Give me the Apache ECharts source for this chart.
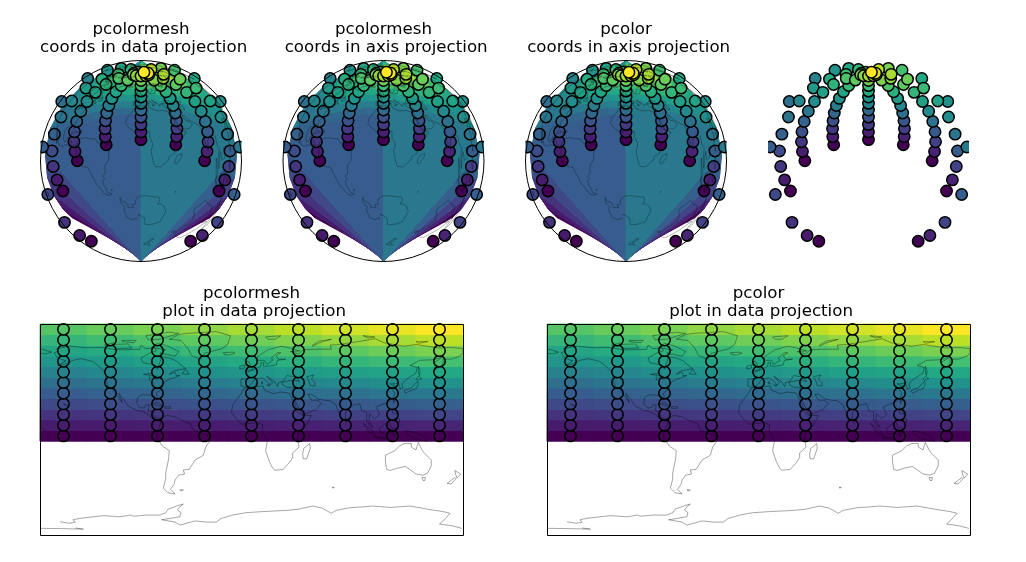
<!DOCTYPE html>
<html><head><meta charset="utf-8">
<style>html,body{margin:0;padding:0;background:#fff}#c{width:1026px;height:562px}</style>
<script src="https://cdn.jsdelivr.net/npm/echarts@6/dist/echarts.min.js"></script>
</head><body><div id="c"></div>
<script>
const lonEdges=[-180,-140,-100,-60,-20,20,60,100,140,180];
const latEdges=[-10,-0.91,8.18,17.27,26.36,35.45,44.55,53.64,62.73,71.82,80.91,90];
const pointLons=[-160,-120,-80,-40,0,40,80,120,160];
const pointLats=[-5.45,3.64,12.73,21.82,30.91,40,49.09,58.18,67.27,76.36,85.45];
const cellValues=[
[0,0,0,0,0,0,0,0,0],
[.073,.076,.080,.083,.087,.090,.093,.097,.100],
[.146,.153,.160,.166,.173,.180,.187,.193,.200],
[.219,.229,.239,.249,.260,.270,.280,.290,.300],
[.292,.306,.319,.332,.346,.360,.373,.386,.400],
[.365,.382,.399,.416,.433,.450,.467,.483,.500],
[.438,.458,.479,.499,.519,.539,.560,.580,.600],
[.511,.535,.559,.582,.606,.629,.653,.676,.700],
[.584,.611,.638,.665,.692,.719,.746,.773,.800],
[.657,.688,.718,.748,.779,.809,.840,.869,.900],
[.730,.764,.798,.831,.865,.899,.933,.966,1]];
const viridisStops=['#440154','#482475','#414487','#355f8d','#2a788e','#21918c','#22a884','#44bf70','#7ad151','#bddf26','#fde725'];
const titles=['pcolormesh\n coords in data projection','pcolormesh\n coords in axis projection','pcolor\n coords in axis projection','pcolormesh\n plot in data projection','pcolor\n plot in data projection'];
const coast=[
// Americas
[[-168,65.5],[-164,67],[-166,68.5],[-156,71.3],[-141,69.7],[-128,70],[-115,68],[-108,68],[-95,68.5],[-94,72],[-90,69],[-82,69.5],[-81,67],[-87,65],[-94,61],[-92.5,57],[-82,55],[-80,51.5],[-79,54.5],[-77,60],[-78,62.5],[-70,61],[-65,59],[-60,55],[-56,52],[-66,50],[-70,47],[-65,49],[-64,46],[-61,46],[-66,44],[-70,43],[-74,40.5],[-76,37],[-76,35],[-81,31],[-80,26],[-81,25],[-83,29],[-90,29.5],[-94,29.5],[-97,27],[-97.5,22],[-95,18.5],[-91,18.5],[-90,21],[-87,21],[-88,16],[-83.5,15],[-83.5,11],[-79.5,9.5],[-76,8.5],[-75,11],[-71.5,12],[-64,10.5],[-60,8],[-52,5],[-50,0],[-44,-2.5],[-35,-6],[-35,-9],[-39,-15],[-41,-22],[-48,-26],[-53,-34],[-58,-34.5],[-57,-38],[-62,-39],[-65,-43],[-66,-47],[-69,-51],[-65,-55],[-71,-54],[-75,-50],[-73,-42],[-73,-37],[-70.5,-25],[-70,-18],[-76,-14],[-81,-6],[-80,-1],[-77.5,4],[-77.5,7.5],[-80,7.5],[-85,10],[-88,13],[-94,16],[-97,16],[-105,20],[-109,26],[-113,31],[-110,23],[-115,30],[-117,33],[-122,37],[-124,43],[-124,48],[-130,54],[-135,58],[-145,60.5],[-152,59],[-158,56],[-165,54.5],[-158,58.5],[-165,61],[-168,65.5]],
// Eurasia
[[-9,37],[-9,43],[-1.5,43.5],[-4.5,48.5],[2,51],[8,54],[8,57],[10.5,57],[10,54],[14,54],[21,55],[22,59],[29,60],[23,60],[21,63],[25,65.5],[22,65.5],[17,61],[18,59],[13,55.5],[11,59],[5,59],[5,62],[14,68],[25,71],[31,70],[41,67],[33,66.5],[40,64.5],[44,68],[54,68.5],[68,68.5],[67,72],[74,72.5],[81,73.5],[100,76.5],[105,77.5],[113,74],[130,71],[140,72.5],[160,69.5],[170,70],[180,69],[180,65],[177,62.5],[170,60],[163,60],[163,56],[156.5,51],[155.5,57],[163,62],[155,59.5],[143,59],[135,54.5],[141,53],[140,48],[132,43],[128,39],[129,35.5],[126.5,34.5],[126,37],[125,39.5],[121.5,39],[118,39],[122,37],[119,35],[122,31],[121,28],[117,23.5],[110,21],[106,19],[109,13],[105,9],[100.5,13.5],[100,8],[103.5,1.5],[101,3],[98,8],[98,15],[94,16],[92,22],[87,21],[80,15],[80,10],[77.5,8],[73,18],[72,21],[67,24.5],[62,25],[57,26],[51,30],[48,30],[51,25],[56,25],[59.5,22.5],[55,17],[45,13],[43,13],[39,21],[35,28],[34.5,31],[36,36],[30,36],[26.5,38],[26,40.5],[29,41],[35,42],[41,41],[37,45],[33,45.5],[30,46],[28,43],[26,40.7],[23,40],[22.5,36.5],[19.5,41],[13,45.5],[18,40],[16,38],[12,42],[9,44],[3,43],[0,39],[-2,37],[-5.5,36],[-9,37]],
[[-180,69],[-175,67.5],[-170,66],[-175,64.5],[-180,65]],
// Africa
[[-5.5,35.8],[10,37],[11,33.5],[19,30.5],[25,32],[32,31],[34,27],[37,22],[39,15],[43,12],[51,12],[47,4],[40,-3],[39,-8],[40.5,-15],[35,-20],[35,-24],[32.5,-28],[27,-34],[20,-34.8],[18,-33],[15,-27],[12,-18],[13.5,-10],[9,-1],[9.5,4],[5,6],[-4,5],[-8,4.5],[-13,9],[-17,14.5],[-16,21],[-10,29],[-5.5,35.8]],
// Antarctica
[[-179,-84.3],[-160,-84.6],[-143,-85],[-150,-84]],[[-163,-78.7],[-155,-80],[-150,-79],[-152,-77],[-146,-75.8],[-135,-74.5],[-126,-73.5],[-118,-74],[-112,-74.5],[-103,-73],[-100,-74],[-90,-73],[-78,-73],[-73,-71],[-71,-68],[-63,-65],[-58,-63.6],[-61,-66],[-63,-68.7],[-60,-71],[-61,-74.4],[-70,-76],[-76.5,-77],[-65,-79],[-61,-81.5],[-48,-78],[-38,-79],[-30,-79],[-26,-76],[-16,-73],[-5,-71],[10,-70],[30,-69],[40,-68],[52,-65.3],[60,-67],[68,-71.5],[72,-69],[84,-66.7],[95,-66],[103,-65.3],[118,-66.5],[135,-65.3],[150,-68],[163,-70],[169,-71.5],[165,-76],[160,-80.7],[170,-82],[179,-84.3]],
// Greenland
[[-55,82],[-30,83.5],[-18,80],[-20,73],[-25,69],[-40,65],[-43,60],[-51,63],[-54,69],[-60,76],[-70,77],[-62,81],[-55,82]],
// Arctic islands
[[-80,73.5],[-72,71.5],[-62,66.5],[-65,62.5],[-72,64],[-78,65],[-73,68],[-85,70],[-80,73.5]],
[[-118,72.5],[-105,73],[-102,69.5],[-115,69],[-118,72.5]],
[[-90,80],[-70,83],[-62,82],[-78,77],[-88,76.5],[-90,80]],
[[-125,72],[-117,74],[-120,71],[-125,72]],
[[-110,76],[-98,76],[-100,74],[-110,75],[-110,76]],
[[12,79],[25,80],[20,77],[14,77],[12,79]],
[[52,71],[58,74],[68,77],[58,75.5],[52,72],[52,71]],
[[95,80],[105,79],[100,78],[95,80]],
[[140,75],[150,75],[142,73.5],[140,75]],
// Iceland and British Isles
[[-24,65.5],[-16,66],[-14,65],[-19,63.5],[-23,64],[-24,65.5]],
[[-5,58.5],[-2,57.5],[0,53],[1.5,52],[1,51],[-5,50],[-3,53],[-5,55],[-5,58.5]],
[[-10,54],[-6,55],[-6,52.5],[-10,51.5],[-10,54]],
// Caribbean
[[-85,22],[-80,23],[-75,20],[-78,20],[-85,22]],[[-74,19.5],[-69,19.5],[-69,18],[-74,18],[-74,19.5]],
// Newfoundland
[[-59,47.5],[-56,51.5],[-53,47],[-59,47.5]],
// Madagascar
[[49.5,-12],[50,-16],[47,-25],[44,-25],[43.5,-21],[44.5,-16],[49.5,-12]],
// Australia
[[114,-22],[122,-18],[126,-14],[130,-12],[136,-12],[136,-15],[140,-17.5],[142,-11],[146,-19],[153,-26],[153,-31],[150,-37],[146,-39],[140,-38],[136,-35],[131,-31.5],[124,-33],[118,-35],[115,-34],[114,-27],[114,-22]],
[[145,-41],[148,-41],[147.5,-43.5],[146,-43.5],[145,-41]],
// New Zealand
[[173,-35],[178,-38],[175,-41.5],[174,-39],[173,-35]],[[173,-41],[174,-42],[170,-46.5],[166.5,-46],[173,-41]],
// Indonesia and neighbours
[[95,5.5],[104,-2],[106,-6],[101,-3],[95,5.5]],[[105,-6.5],[114,-7],[114,-8.5],[106,-7.5],[105,-6.5]],[[109,1],[117,7],[119,1],[116,-4],[110,-3],[109,1]],[[120,1],[125,1.5],[121,-1],[122,-5],[119.5,-5],[120,1]],[[131,-1],[141,-3],[147,-6],[150,-10],[143,-9],[138,-8],[133,-4],[131,-1]],
[[120,18],[122,18],[124,13],[120,14],[120,18]],[[122,9],[126,9],[126,6],[122,7],[122,9]],
[[120.5,25],[122,25],[121,22],[120.5,25]],[[80,9.5],[82,7],[80.5,6],[80,9.5]],
// Japan and Sakhalin
[[130,33.5],[136,35.5],[140,40],[141.5,41],[142,39],[140.5,35],[136,33.5],[131,31],[130,33.5]],[[140,43],[142,45.5],[145,43.5],[141,42],[140,43]],[[142,54],[143.5,50],[143,46],[142,48],[142,54]],
// Caspian
[[47,45],[53,46.5],[51,43],[54,40],[54,37],[50,37.5],[49,41],[47,45]],
// Great Lakes and small islands
[[-92,47],[-85,48],[-84,46],[-88,46.5],[-92,47]],[[-87,46],[-87,42],[-85,44],[-83,46],[-80,44.5],[-82,43],[-79,43.5],[-76,44]],
[[-61,-51.5],[-58,-51.5],[-59,-52.5],[-61,-51.5]],[[69,-49],[70.5,-49.5],[69,-50],[69,-49]],[[9,41],[9.5,39],[8.5,39],[9,41]],[[13,38],[15.5,38],[15,36.7],[13,38]],[[-160,22],[-155,20],[-156,19],[-160,22]]
];
function viridis(v){
  const t=Math.max(0,Math.min(1,v))*(viridisStops.length-1),i=Math.min(Math.floor(t),viridisStops.length-2),f=t-i;
  const h=s=>[1,3,5].map(k=>parseInt(s.substr(k,2),16));
  const a=h(viridisStops[i]),b=h(viridisStops[i+1]);
  return 'rgb('+a.map((x,k)=>Math.round(x+(b[k]-x)*f)).join(',')+')';
}
const rad=Math.PI/180,lat0=-30*rad;
function laea(p){
  const l=p[0]*rad,f=p[1]*rad;
  const c=Math.sin(lat0)*Math.sin(f)+Math.cos(lat0)*Math.cos(f)*Math.cos(l);
  const k=Math.sqrt(2/Math.max(1+c,1e-9));
  return [k*Math.cos(f)*Math.sin(l),k*(Math.cos(lat0)*Math.sin(f)-Math.sin(lat0)*Math.cos(f)*Math.cos(l))];
}
const plain=p=>p;
const panels=[
 {cx:141,cy:161,r:100.5,proj:laea,mesh:1,coast:1,ring:1},
 {cx:383.5,cy:161,r:100.5,proj:laea,mesh:1,coast:1,ring:1},
 {cx:626,cy:161,r:100.5,proj:laea,mesh:1,coast:1,ring:1},
 {cx:868.5,cy:161,r:100.5,proj:laea,mesh:0,coast:0,ring:0},
 {box:[40,324,423,211],proj:plain,mesh:1,coast:1,frame:1},
 {box:[547,324,423,211],proj:plain,mesh:1,coast:1,frame:1}
];
const titlePos=[[141,20],[383.5,20],[626,20],[251.5,284],[758.5,284]];
const grid=[],xAxis=[],yAxis=[],series=[];
panels.forEach((P,n)=>{
  const flat=!!P.box;
  grid.push(flat?{left:P.box[0],top:P.box[1],width:P.box[2],height:P.box[3]}:{left:P.cx-P.r,top:P.cy-P.r,width:2*P.r,height:2*P.r});
  xAxis.push({type:'value',gridIndex:n,min:flat?-180:-2,max:flat?180:2,show:false});
  yAxis.push({type:'value',gridIndex:n,min:flat?-90:-2,max:flat?90:2,show:false});
  const ax={xAxisIndex:n,yAxisIndex:n};
  if(P.mesh){
    const cells=[];
    cellValues.forEach((row,i)=>row.forEach((v,j)=>cells.push([j,i,v])));
    series.push({type:'custom',...ax,z:1,silent:true,data:cells,encode:{x:0,y:1},
      renderItem(params,api){
        const j=api.value(0),i=api.value(1),col=viridis(api.value(2));
        const pts=[[j,i],[j+1,i],[j+1,i+1],[j,i+1]].map(q=>api.coord(P.proj([lonEdges[q[0]],latEdges[q[1]]])));
        return {type:'polygon',shape:{points:pts},style:{fill:col,stroke:col,lineWidth:0.9}};
      }});
  }
  const pts=[];
  cellValues.forEach((row,i)=>row.forEach((v,j)=>{
    const q=P.proj([pointLons[j],pointLats[i]]);
    pts.push([q[0],q[1],v]);
  }));
  series.push({type:'custom',...ax,z:2,silent:true,data:pts,encode:{x:0,y:1},
    renderItem(params,api){
      const c=api.coord([api.value(0),api.value(1)]);
      const el={type:'circle',shape:{cx:c[0],cy:c[1],r:5.7},style:{fill:viridis(api.value(2)),stroke:'#000',lineWidth:1.5}};
      if(!flat){const a=api.coord([-2,2]),s=api.size([4,4]);el.clipPath={type:'rect',shape:{x:a[0],y:a[1],width:s[0],height:s[1]}};}
      return el;
    }});
  if(P.coast){
    const data=[];
    coast.forEach(line=>{
      let cur=[];
      line.forEach(p=>{
        const q=P.proj(p);
        if(cur.length){
          const d=cur[cur.length-1];
          if(!flat&&Math.hypot(q[0]-d[0],q[1]-d[1])>1.5){data.push({coords:cur});cur=[];}
        }
        cur.push(q);
      });
      if(cur.length>1)data.push({coords:cur});
    });
    series.push({type:'lines',coordinateSystem:'cartesian2d',...ax,z:3,silent:true,polyline:true,clip:true,
      lineStyle:{color:'#000',width:0.5,opacity:flat?0.7:0.55},data});
  }
  if(P.ring){
    series.push({type:'custom',...ax,z:4,silent:true,clip:false,data:[[0,0]],
      renderItem(params,api){
        const c=api.coord([0,0]);
        return {type:'circle',shape:{cx:c[0],cy:c[1],r:api.size([2,0])[0]},style:{fill:'none',stroke:'#000',lineWidth:1}};
      }});
  }
  if(P.frame){
    series.push({type:'custom',...ax,z:4,silent:true,clip:false,data:[[-180,90]],
      renderItem(params,api){
        const a=api.coord([-180,90]),b=api.coord([180,-90]);
        return {type:'rect',shape:{x:a[0]+0.5,y:a[1]+0.5,width:b[0]-a[0],height:b[1]-a[1]},style:{fill:'none',stroke:'#000',lineWidth:1}};
      }});
  }
});
const chart=echarts.init(document.getElementById('c'),null,{renderer:'canvas'});
chart.setOption({animation:false,backgroundColor:'#fff',
  title:titles.map((t,i)=>({text:t,left:titlePos[i][0],top:titlePos[i][1],textAlign:'center',padding:0,itemGap:0,
    textStyle:{fontFamily:'DejaVu Sans',fontSize:16.67,fontWeight:'normal',color:'#000',lineHeight:18.5}})),
  grid,xAxis,yAxis,series});
</script></body></html>
